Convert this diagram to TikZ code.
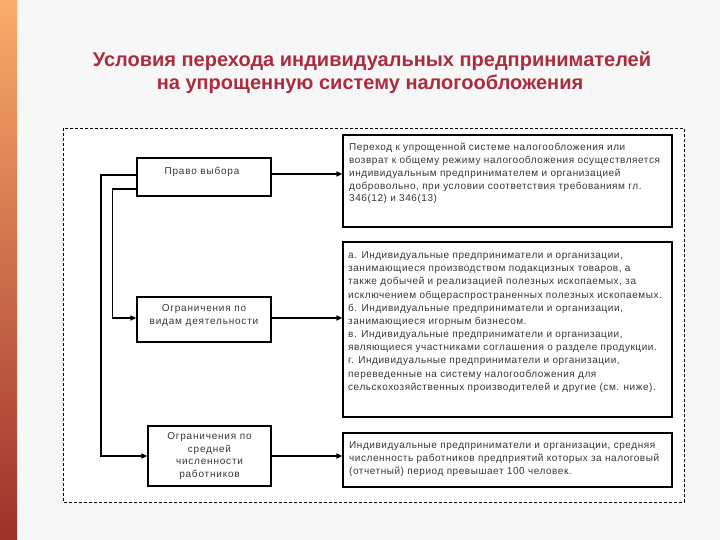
\documentclass[tikz,border=0pt]{standalone}
\usepackage{fontspec}
\setmainfont{Liberation Sans}
\newfontfamily\boxfont[LetterSpace=5.5]{Liberation Sans}
\newfontfamily\lboxfont[LetterSpace=8]{Liberation Sans}
\usetikzlibrary{arrows.meta}
\definecolor{ttl}{RGB}{172,44,62}
\definecolor{bgc}{RGB}{247,247,247}
\definecolor{txc}{RGB}{55,55,55}
\definecolor{barA}{RGB}{250,172,105}
\definecolor{barB}{RGB}{255,124,12}
\definecolor{barC}{RGB}{158,48,44}
\tikzset{
  box/.style={draw=black, line width=1.2pt, fill=white, inner sep=0pt},
  txt/.style={text=txc, inner sep=0pt, font=\boxfont\fontsize{10}{12.8}\selectfont},
  ltxt/.style={text=txc, inner sep=0pt, font=\lboxfont\fontsize{10}{12.7}\selectfont},
  arr/.style={draw=black, line width=1.8pt, -{Triangle[length=6pt,width=5pt]}},
  larr/.style={draw=black, line width=1.2pt, -{Triangle[length=6pt,width=5pt]}},
  ttlstyle/.style={text=ttl, inner sep=0pt, font=\fontsize{20}{23}\selectfont\bfseries},
}
\begin{document}
\begin{tikzpicture}[x=1pt,y=-1pt]
\useasboundingbox (0,0) rectangle (720,540);
\fill[bgc] (0,0) rectangle (720,540);
\shade[top color=barA, middle color=barB, bottom color=barC] (0,0) rectangle (17,540);

% title
\node[ttlstyle, anchor=base] (t1) at (372,67) {Условия перехода индивидуальных предпринимателей};
\node[ttlstyle, anchor=base] (t2) at (370,90) {на упрощенную систему налогообложения};

% dashed frame
\draw[black, line width=0.8pt, dash pattern=on 3pt off 2pt, fill=white] (63,128) rectangle (684,502);

% left boxes
\node[box, minimum width=134pt, minimum height=38pt] (b1) at (204,177) {};
\node[ltxt, align=center] (b1t) at (202,172) {Право выбора};
\node[box, minimum width=134pt, minimum height=45pt] (b2) at (204,319.5) {};
\node[ltxt, align=center] (b2t) at (204,315.5) {Ограничения по\\видам деятельности};
\node[box, minimum width=123pt, minimum height=60pt] (b3) at (209.5,456) {};
\node[ltxt, align=center] (b3t) at (209.5,456) {Ограничения по\\средней\\численности\\работников};

% right boxes
\node[box, minimum width=329pt, minimum height=92pt] (r1) at (507.5,181) {};
\node[txt, align=left, anchor=north west] (r1t) at (349,143) {Переход к упрощенной системе налогообложения или\\возврат к общему режиму налогообложения осуществляется\\индивидуальным предпринимателем и организацией\\добровольно, при условии соответствия требованиям гл.\\346(12) и 346(13)};
\node[box, minimum width=329pt, minimum height=175pt] (r2) at (507.5,329.5) {};
\node[txt, align=left, anchor=north west, font=\boxfont\fontsize{10}{13.17}\selectfont] (r2t) at (348,251.5) {а. Индивидуальные предприниматели и организации,\\занимающиеся производством подакцизных товаров, а\\также добычей и реализацией полезных ископаемых, за\\исключением общераспространенных полезных ископаемых.\\б. Индивидуальные предприниматели и организации,\\занимающиеся игорным бизнесом.\\в. Индивидуальные предприниматели и организации,\\являющиеся участниками соглашения о разделе продукции.\\г. Индивидуальные предприниматели и организации,\\переведенные на систему налогообложения для\\сельскохозяйственных производителей и другие (см. ниже).};
\node[box, minimum width=329pt, minimum height=54pt] (r3) at (507.5,460) {};
\node[txt, align=left, anchor=north west] (r3t) at (349,441.5) {Индивидуальные предприниматели и организации, средняя\\численность работников предприятий которых за налоговый\\(отчетный) период превышает 100 человек.};

% connectors
\draw[arr] (b1.east |- 0,174) -- (r1.west |- 0,174);
\draw[arr] (b2.east |- 0,318) -- (r2.west |- 0,318);
\draw[arr] (b3.east |- 0,456) -- (r3.west |- 0,456);
\coordinate (o1) at (101,175);
\coordinate (o2) at (101,456);
\coordinate (i1) at (112.5,189);
\coordinate (i2) at (112.5,318);
\draw[larr] (b1.west |- o1) -- (o1) -- (o2) -- (b3.west |- o2);
\draw[larr] (b1.west |- i1) -- (i1) -- (i2) -- (b2.west |- i2);
\end{tikzpicture}
\end{document}
